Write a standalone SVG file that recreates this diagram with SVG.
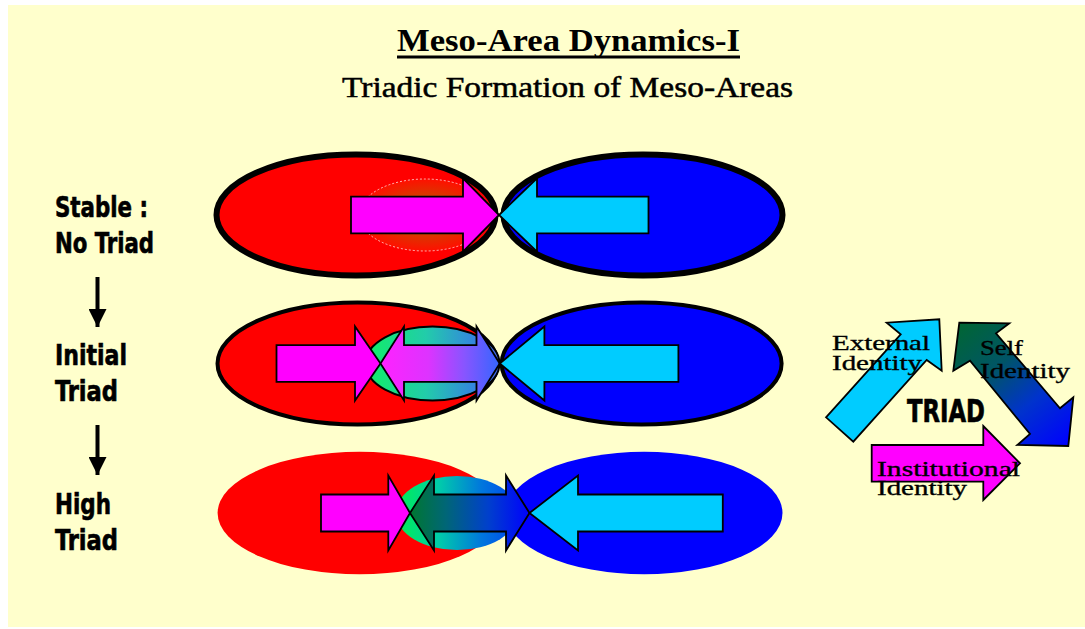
<svg xmlns="http://www.w3.org/2000/svg" width="1085" height="629" viewBox="0 0 1085 629">
<defs>
<style>
.ttl{font-family:"Liberation Serif","DejaVu Serif",serif;font-weight:bold;fill:#000}
.sub{font-family:"Liberation Serif","DejaVu Serif",serif;fill:#000;stroke:#000;stroke-width:0.5}
.lbl{font-family:"Liberation Sans Narrow","DejaVu Sans Condensed","Liberation Sans",sans-serif;font-weight:bold;font-size:28px;fill:#000;stroke:#000;stroke-width:0.6}
.tri{font-family:"Liberation Serif","DejaVu Serif",serif;font-size:21px;fill:#000;stroke:#000;stroke-width:0.35}
.arr{stroke:#000;stroke-width:1.8;stroke-linejoin:miter}
.pink{fill:#FF00FF}
.cyan{fill:#00CCFF}
.red{fill:#FF0000}
.blue{fill:#0000FF}
</style>
<radialGradient id="glow" cx="0.5" cy="0.5" r="0.5">
<stop offset="0" stop-color="#A05800"/>
<stop offset="0.55" stop-color="#D83800"/>
<stop offset="1" stop-color="#FF1000"/>
</radialGradient>
<linearGradient id="in2" gradientUnits="userSpaceOnUse" x1="366" y1="0" x2="499" y2="0">
<stop offset="0" stop-color="#11EE66"/>
<stop offset="0.45" stop-color="#22CCAA"/>
<stop offset="0.8" stop-color="#3388DD"/>
<stop offset="1" stop-color="#4466EE"/>
</linearGradient>
<linearGradient id="dbl2" gradientUnits="userSpaceOnUse" x1="381" y1="0" x2="500" y2="0">
<stop offset="0" stop-color="#FF22FF"/>
<stop offset="0.4" stop-color="#DD33FF"/>
<stop offset="0.7" stop-color="#8855FF"/>
<stop offset="1" stop-color="#3366FF"/>
</linearGradient>
<linearGradient id="in3" gradientUnits="userSpaceOnUse" x1="396" y1="0" x2="518" y2="0">
<stop offset="0" stop-color="#00F050"/>
<stop offset="0.35" stop-color="#00CCAA"/>
<stop offset="0.7" stop-color="#0077DD"/>
<stop offset="1" stop-color="#0044EE"/>
</linearGradient>
<linearGradient id="dbl3" gradientUnits="userSpaceOnUse" x1="410" y1="0" x2="530" y2="0">
<stop offset="0" stop-color="#007730"/>
<stop offset="0.3" stop-color="#006677"/>
<stop offset="0.65" stop-color="#0040CC"/>
<stop offset="1" stop-color="#0000FF"/>
</linearGradient>
<linearGradient id="selfg" gradientUnits="userSpaceOnUse" x1="960" y1="323" x2="1068" y2="446">
<stop offset="0" stop-color="#006633"/>
<stop offset="0.35" stop-color="#005566"/>
<stop offset="0.65" stop-color="#0033CC"/>
<stop offset="1" stop-color="#0000FF"/>
</linearGradient>
<marker id="down" viewBox="0 0 18 18" refX="18" refY="9" markerWidth="18" markerHeight="18" markerUnits="userSpaceOnUse" orient="auto">
<path d="M0,0 L18,9 L0,18 Z" fill="#000"/>
</marker>
</defs>

<rect x="8" y="5" width="1077" height="622" fill="#FFFFCC"/>

<g id="title">
<text class="ttl" x="397" y="51" font-size="32" textLength="343" lengthAdjust="spacingAndGlyphs">Meso-Area Dynamics-I</text>
<rect x="397" y="55.5" width="343" height="3" fill="#000"/>
<text class="sub" x="342" y="97" font-size="29" textLength="451" lengthAdjust="spacingAndGlyphs">Triadic Formation of Meso-Areas</text>
</g>

<g id="labels">
<text class="lbl" x="55" y="217" textLength="93" lengthAdjust="spacingAndGlyphs">Stable :</text>
<text class="lbl" x="55" y="253" textLength="99" lengthAdjust="spacingAndGlyphs">No Triad</text>
<text class="lbl" x="55" y="365" textLength="72" lengthAdjust="spacingAndGlyphs">Initial</text>
<text class="lbl" x="55" y="401" textLength="63" lengthAdjust="spacingAndGlyphs">Triad</text>
<text class="lbl" x="55" y="514" textLength="56" lengthAdjust="spacingAndGlyphs">High</text>
<text class="lbl" x="55" y="550" textLength="63" lengthAdjust="spacingAndGlyphs">Triad</text>
</g>

<g id="connectors">
<line x1="97.5" y1="277" x2="97.5" y2="327" stroke="#000" stroke-width="4" marker-end="url(#down)"/>
<line x1="97.5" y1="425" x2="97.5" y2="475" stroke="#000" stroke-width="4" marker-end="url(#down)"/>
</g>

<g id="row1">
<ellipse class="red" cx="356" cy="215" rx="139.5" ry="60.5" stroke="#000" stroke-width="6"/>
<ellipse class="blue" cx="643" cy="215" rx="139.5" ry="60.5" stroke="#000" stroke-width="6"/>
<ellipse cx="425" cy="215" rx="66" ry="36" fill="url(#glow)" stroke="#FFFFFF" stroke-opacity="0.7" stroke-width="1" stroke-dasharray="2 2"/>
<polygon class="arr pink" points="351,196.7 463,196.7 463,178.3 499,215 463,251.7 463,233.3 351,233.3"/>
<polygon class="arr cyan" points="648.5,196.7 537,196.7 537,178.3 499,215 537,251.7 537,233.3 648.5,233.3"/>
</g>

<g id="row2">
<ellipse class="red" cx="357.5" cy="363.5" rx="140" ry="61" stroke="#000" stroke-width="4"/>
<ellipse class="blue" cx="641.6" cy="363.5" rx="140" ry="61" stroke="#000" stroke-width="4"/>
<ellipse cx="432.5" cy="363.5" rx="67" ry="37" fill="url(#in2)" stroke="#000" stroke-width="2"/>
<polygon class="arr pink" points="276.5,345.2 355,345.2 355,326.5 380.5,363.5 355,400.5 355,381.8 276.5,381.8"/>
<polygon class="arr" fill="url(#dbl2)" points="380.5,363.5 404,326.5 404,345.2 476.5,345.2 476.5,326.5 499.7,363.5 476.5,400.5 476.5,381.8 404,381.8 404,400.5"/>
<polygon class="arr cyan" points="678.4,345.2 544.4,345.2 544.4,326.5 499.7,363.5 544.4,400.5 544.4,381.8 678.4,381.8"/>
</g>

<g id="row3">
<ellipse class="red" cx="359.6" cy="513" rx="142" ry="61.2"/>
<ellipse class="blue" cx="644.2" cy="513" rx="138.3" ry="61.2"/>
<ellipse cx="457" cy="513" rx="61" ry="37" fill="url(#in3)"/>
<polygon class="arr pink" points="321,494.5 388.3,494.5 388.3,475.5 410,513 388.3,550.5 388.3,531.5 321,531.5"/>
<polygon class="arr" fill="url(#dbl3)" points="410,513 434,475.5 434,494.5 506,494.5 506,475.5 529.5,513 506,550.5 506,531.5 434,531.5 434,550.5"/>
<polygon class="arr cyan" points="722.8,494.5 578,494.5 578,475.5 529.5,513 578,550.5 578,531.5 722.8,531.5"/>
</g>

<g id="triad">
<polygon class="arr cyan" points="826,417.3 900.7,334.3 886.7,322.7 939.3,319.3 941.7,370.7 926.7,360 853.3,441.7"/>
<polygon class="arr" fill="url(#selfg)" points="959.3,322.7 1009.3,323.3 996,333.3 1060,408.3 1073.3,397.3 1068.3,446 1017.3,445 1030,434 970,360.7 953.3,370.7"/>
<polygon class="arr pink" points="871.7,445 983.3,445 983.3,426 1020,463.3 983.3,500 983.3,481.7 871.7,481.7"/>
<text class="tri" x="832" y="350" textLength="98" lengthAdjust="spacingAndGlyphs">External</text>
<text class="tri" x="832" y="370" textLength="90" lengthAdjust="spacingAndGlyphs">Identity</text>
<text class="tri" x="980" y="355" textLength="43" lengthAdjust="spacingAndGlyphs">Self</text>
<text class="tri" x="980" y="378" textLength="90" lengthAdjust="spacingAndGlyphs">Identity</text>
<text class="lbl" x="907" y="422" style="font-size:32px" textLength="78" lengthAdjust="spacingAndGlyphs">TRIAD</text>
<text class="tri" x="877" y="476" textLength="143" lengthAdjust="spacingAndGlyphs">Institutional</text>
<text class="tri" x="877" y="495" textLength="90" lengthAdjust="spacingAndGlyphs">Identity</text>
</g>
</svg>
